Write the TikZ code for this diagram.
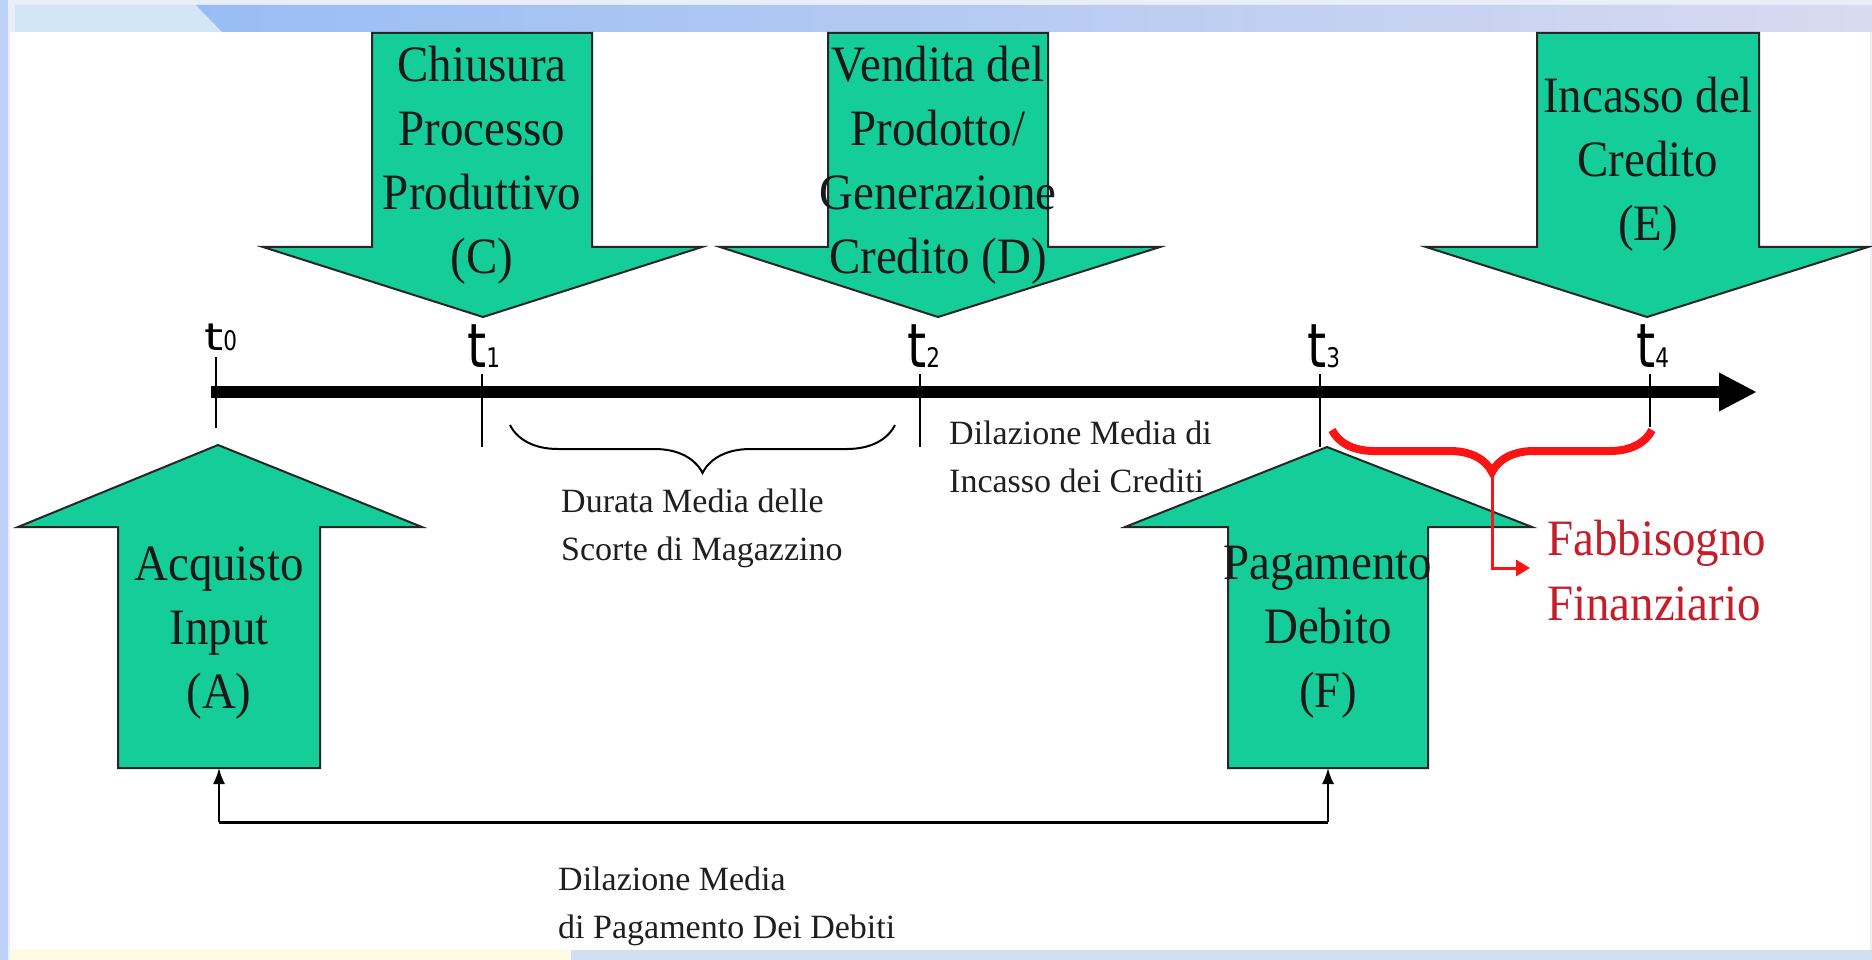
\documentclass[tikz,border=0pt]{standalone}
\usepackage{fontspec}
\usetikzlibrary{arrows.meta,decorations.pathreplacing}
\newfontfamily\bigserif[FakeStretch=0.92]{Liberation Serif}
\newfontfamily\smallserif{Liberation Serif}
\newfontfamily\tfont[FakeStretch=0.8]{DejaVu Sans}
\definecolor{arrgreen}{RGB}{20,205,152}
\definecolor{framebg}{RGB}{233,238,248}
\definecolor{leftstrip}{RGB}{188,210,246}
\definecolor{bandlight}{RGB}{211,230,248}
\definecolor{banddark}{RGB}{152,189,244}
\definecolor{bandright}{RGB}{216,218,240}
\definecolor{botyellow}{RGB}{255,251,227}
\definecolor{botblue}{RGB}{210,222,242}
\definecolor{bracered}{RGB}{250,20,20}
\definecolor{textred}{RGB}{196,30,42}
\tikzset{
  bigarrow/.style={fill=arrgreen, draw=black!85, line width=2pt, line join=miter},
  bigtext/.style={font=\bigserif\fontsize{51}{64}\selectfont, align=center, inner sep=0pt, anchor=base, text=black!90},
  smalltext/.style={font=\smallserif\fontsize{34}{48}\selectfont, align=left, inner sep=0pt, anchor=base west, text=black!88},
  redtext/.style={font=\bigserif\fontsize{51}{65}\selectfont, align=left, inner sep=0pt, anchor=base west, text=textred},
  tlab/.style={inner sep=0pt, anchor=base west, font=\tfont},
  tickline/.style={line width=2pt},
}
\newcommand{\tl}[1]{{\fontsize{61}{61}\selectfont t}{\fontsize{27}{27}\selectfont #1}}
\begin{document}
\begin{tikzpicture}[x=1pt,y=-1pt]
\useasboundingbox (0,0) rectangle (1872,960);
% background
\fill[framebg] (0,0) rectangle (1872,960);
\fill[leftstrip] (0,0) rectangle (8,960);
\fill[bandlight] (15,5) -- (196,5) -- (222,32) -- (15,32) -- cycle;
\shade[left color=banddark, right color=bandright] (196,5) -- (1872,5) -- (1872,32) -- (222,32) -- cycle;
\fill[white] (10,32) rectangle (1870,950);
\fill[botyellow] (10,950) rectangle (571,960);
\fill[botblue] (571,950) rectangle (1872,960);

% down arrows
\draw[bigarrow] (372,33) -- (592,33) -- (592,247) -- (702,247) -- (483,317) -- (263,247) -- (372,247) -- cycle;
\draw[bigarrow] (828,33) -- (1048,33) -- (1048,247) -- (1160,247) -- (938,317) -- (720,247) -- (828,247) -- cycle;
\draw[bigarrow] (1537,33) -- (1759,33) -- (1759,247) -- (1868,247) -- (1647,317) -- (1426,247) -- (1537,247) -- cycle;
% up arrows
\draw[bigarrow] (218,445) -- (422,527) -- (320,527) -- (320,768) -- (118,768) -- (118,527) -- (18,527) -- cycle;
\draw[bigarrow] (1327,447) -- (1532,527) -- (1428,527) -- (1428,768) -- (1228,768) -- (1228,527) -- (1125,527) -- cycle;
\coordinate (Abot) at (219,768);
\coordinate (Fbot) at (1328,768);

% arrow texts (anchor = baseline of last line)
\node[bigtext] (C) at (482,273) {Chiusura\\Processo\\Produttivo\\(C)};
\node[bigtext] (D) at (938,273) {Vendita del\\Prodotto/\\Generazione\\Credito (D)};
\node[bigtext] (E) at (1648,241) {Incasso del\\Credito\\(E)};
\node[bigtext] (A) at (219,708) {Acquisto\\Input\\(A)};
\node[bigtext] (F) at (1328,707) {Pagamento\\Debito\\(F)};

% timeline
\coordinate (tstart) at (211,392);
\coordinate (tend) at (1757,392);
\draw[line width=12pt, -{Triangle[width=36pt,length=38pt]}] (tstart) -- (tend);
\draw[tickline] (216,357) -- (216,428);
\draw[tickline] (482,374) -- (482,447);
\draw[tickline] (920,374) -- (920,447);
\draw[tickline] (1320,374) -- (1320,447);
\draw[tickline] (1650,374) -- (1650,427);
\node[tlab] (t0) at (204,350) {{\fontsize{61}{61}\selectfont\scalebox{1}[0.62]{t}}{\fontsize{27}{27}\selectfont 0}};
\node[tlab] (t1) at (467,367) {\tl{1}};
\node[tlab] (t2) at (907,367) {\tl{2}};
\node[tlab] (t3) at (1307,367) {\tl{3}};
\node[tlab] (t4) at (1636,367) {\tl{4}};

% brace scorte
\draw[line width=2pt, decorate, decoration={brace, mirror, amplitude=48pt}] (510,425) -- (895,425);
\node[smalltext] (scorte) at (561,560) {Durata Media delle\\Scorte di Magazzino};
\node[smalltext] (incasso) at (949,492) {Dilazione Media di\\Incasso dei Crediti};

% red brace
\draw[bracered, line width=8pt, decorate, decoration={brace, mirror, amplitude=42pt}] (1332,430) -- (1652,430);
\coordinate (redtip) at (1492,476);
\coordinate (redend) at (1530,568);
\draw[bracered, line width=3pt, -{Triangle[width=16pt,length=14pt]}] (redtip) |- (redend);
\node[redtext] (fabb) at (1547,620) {Fabbisogno\\Finanziario};

% bottom connector
\coordinate (la) at (219,822);
\coordinate (lf) at (1328,822);
\draw[line width=3pt] (la) -- (lf);
\draw[line width=1.8pt, -{Latex[width=12pt,length=16pt]}] (la) -- (Abot);
\draw[line width=1.8pt, -{Latex[width=12pt,length=16pt]}] (lf) -- (Fbot);
\node[smalltext] (pag) at (558,938) {Dilazione Media\\di Pagamento Dei Debiti};
\end{tikzpicture}
\end{document}
